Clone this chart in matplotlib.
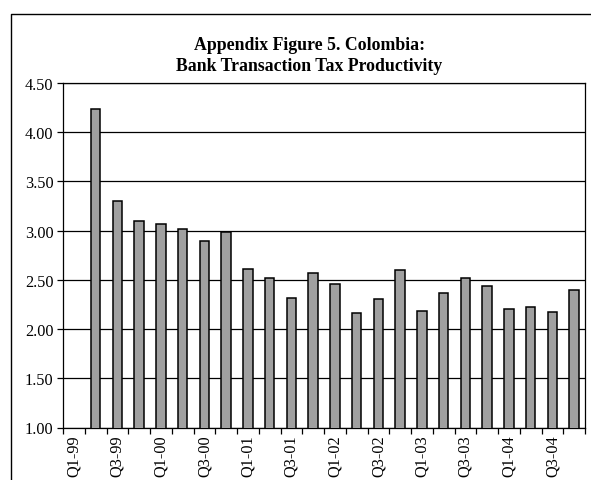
import numpy as np
import matplotlib as mpl

mpl.use('Agg')

import matplotlib.pyplot as plt
from matplotlib.lines import Line2D

plt.rcParams['font.family'] = ['Liberation Serif', 'DejaVu Serif']

# quarters Q1-99 .. Q4-04, Q1-99 has no value
quarters = ['Q1-99', 'Q2-99', 'Q3-99', 'Q4-99',
            'Q1-00', 'Q2-00', 'Q3-00', 'Q4-00',
            'Q1-01', 'Q2-01', 'Q3-01', 'Q4-01',
            'Q1-02', 'Q2-02', 'Q3-02', 'Q4-02',
            'Q1-03', 'Q2-03', 'Q3-03', 'Q4-03',
            'Q1-04', 'Q2-04', 'Q3-04', 'Q4-04']
productivity = [np.nan, 4.24, 3.30, 3.10, 3.07, 3.02, 2.89, 2.99,
                2.61, 2.52, 2.32, 2.57, 2.46, 2.16, 2.31, 2.60,
                2.18, 2.37, 2.52, 2.44, 2.20, 2.22, 2.17, 2.40]
y_ticks = [1.0, 1.5, 2.0, 2.5, 3.0, 3.5, 4.0, 4.5]

fig = plt.figure(figsize=(5.91, 4.81), dpi=100)
ax = fig.add_axes([63/591, 1 - 428.5/481, 522/591, 344.5/481])

x = np.arange(len(quarters))
ax.bar(x, productivity, width=0.44, bottom=0, color='#a0a0a0',
       edgecolor='black', linewidth=1.1, zorder=3)

ax.set_ylim(1.0, 4.5)
ax.set_xlim(-0.5, len(quarters) - 0.5)
ax.set_yticks(y_ticks)
ax.set_yticklabels(['{:.2f}'.format(v) for v in y_ticks], fontsize=11.7)
ax.yaxis.grid(True, color='black', linewidth=0.9, zorder=0)

# tick marks between categories, labels on every other quarter
ax.set_xticks(np.arange(-0.5, len(quarters), 1.0))
ax.set_xticklabels([])
ax.set_xticks(x[::2], minor=True)
ax.set_xticklabels(quarters[::2], minor=True, rotation=90, fontsize=11.7)
ax.tick_params(axis='x', which='major', direction='out', length=4, width=0.9)
ax.tick_params(axis='x', which='minor', length=0, pad=5)
ax.tick_params(axis='y', direction='out', length=4, width=0.9, pad=3)

for s in ax.spines.values():
    s.set_linewidth(0.9)
    s.set_color('black')

fig.text(0.523, 1 - 56/481, 'Appendix Figure 5. Colombia:\nBank Transaction Tax Productivity',
         ha='center', va='center', fontsize=12.8, fontweight='bold', linespacing=1.3)

# outer frame (top and left only visible)
fx = 11/591
fy = 1 - 15/481
fig.add_artist(Line2D([fx, fx, 1.0], [0.0, fy, fy], color='black', linewidth=1.0,
                      transform=fig.transFigure))

fig.savefig('out.png', dpi=100)
